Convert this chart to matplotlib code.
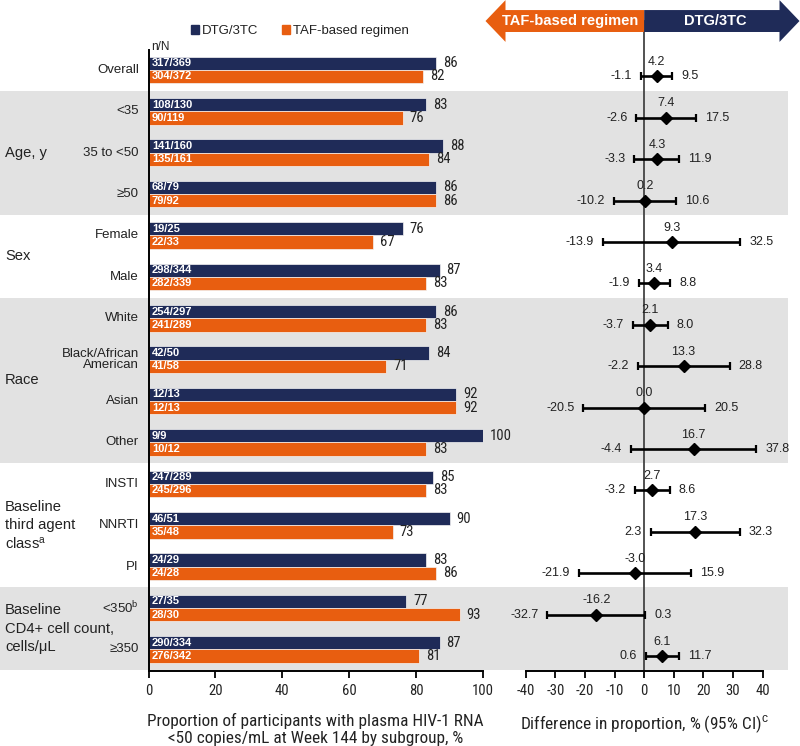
import matplotlib
matplotlib.use("Agg")
import matplotlib.pyplot as plt
import numpy as np
from matplotlib.patches import Patch, FancyArrow
from matplotlib import font_manager as fm

plt.rcParams['mathtext.fontset'] = 'custom'
plt.rcParams['mathtext.rm'] = 'Liberation Sans'
plt.rcParams['mathtext.it'] = 'Liberation Sans:italic'
plt.rcParams['font.family'] = ['Liberation Sans', 'DejaVu Sans']
plt.rcParams['axes.unicode_minus'] = False

# ---------------- data ----------------
subgroups = ['Overall', '<35', '35 to <50', '≥50', 'Female', 'Male', 'White',
             'Black/African\nAmerican', 'Asian', 'Other', 'INSTI', 'NNRTI', 'PI',
             '<350$^{\\mathrm{b}}$', '≥350']
dtg_pct = [86, 83, 88, 86, 76, 87, 86, 84, 92, 100, 85, 90, 83, 77, 87]
taf_pct = [82, 76, 84, 86, 67, 83, 83, 71, 92, 83, 83, 73, 86, 93, 81]
dtg_nN = ['317/369', '108/130', '141/160', '68/79', '19/25', '298/344', '254/297',
          '42/50', '12/13', '9/9', '247/289', '46/51', '24/29', '27/35', '290/334']
taf_nN = ['304/372', '90/119', '135/161', '79/92', '22/33', '282/339', '241/289',
          '41/58', '12/13', '10/12', '245/296', '35/48', '24/28', '28/30', '276/342']
diff = [4.2, 7.4, 4.3, 0.2, 9.3, 3.4, 2.1, 13.3, 0.0, 16.7, 2.7, 17.3, -3.0, -16.2, 6.1]
ci_low = [-1.1, -2.6, -3.3, -10.2, -13.9, -1.9, -3.7, -2.2, -20.5, -4.4, -3.2, 2.3, -21.9, -32.7, 0.6]
ci_high = [9.5, 17.5, 11.9, 10.6, 32.5, 8.8, 8.0, 28.8, 20.5, 37.8, 8.6, 32.3, 15.9, 0.3, 11.7]
# category: (label, first row, last row, shaded)
categories = [('Age, y', 1, 3, True), ('Sex', 4, 5, False), ('Race', 6, 9, True),
              ('Baseline\nthird agent\nclass$^{\\mathrm{a}}$', 10, 12, False),
              ('Baseline\nCD4+ cell count,\ncells/μL', 13, 14, True)]
bar_ticks = [0, 20, 40, 60, 80, 100]
diff_ticks = [-40, -30, -20, -10, 0, 10, 20, 30, 40]

NAVY = '#1f2b58'
ORANGE = '#e85e10'
GRAY = '#e2e2e2'
TXT = '#222222'

# pick a condensed font if one exists
NARROW = None
for cand in ['Liberation Sans Narrow', 'Arial Narrow', 'Roboto Condensed', 'Open Sans Condensed']:
    try:
        fm.findfont(fm.FontProperties(family=cand), fallback_to_default=False)
        NARROW = cand
        break
    except Exception:
        pass
if NARROW is not None:
    NFAM = [NARROW, 'Liberation Sans']
    SZ_VAL, SZ_TICK, SZ_XLAB = 10.5, 10.5, 12.4
else:
    NFAM = ['Liberation Sans']
    SZ_VAL, SZ_TICK, SZ_XLAB = 9.6, 9.6, 11.1

W, H = 800, 746
fig = plt.figure(figsize=(8, 7.46), dpi=100)
def fx(px): return px / W
def fy(py): return 1 - py / H

top_px, bot_px = 50, 671
hfrac = (bot_px - top_px) / H
bg = fig.add_axes([0, fy(bot_px), fx(788), hfrac])
ax_b = fig.add_axes([fx(148.5), fy(bot_px), fx(483 - 148.5), hfrac])
ax_f = fig.add_axes([fx(525.7), fy(bot_px), fx(762.7 - 525.7), hfrac])
bg.set_zorder(0); ax_b.set_zorder(1); ax_f.set_zorder(1)
for a in (ax_b, ax_f):
    a.patch.set_visible(False)

n = len(subgroups)
y = np.arange(n)
ylim = (n - 0.48, -0.48)
row_px = (bot_px - top_px) / (ylim[0] - ylim[1])

# background bands
bg.set_xlim(0, 1); bg.set_ylim(ylim); bg.axis('off')
for lab, r0, r1, shaded in categories:
    if shaded:
        bg.axhspan(r0 - 0.5, min(r1 + 0.5, ylim[0]), color=GRAY, lw=0)

# bars
hb = 0.32
ax_b.barh(y - hb / 2, dtg_pct, height=hb, color=NAVY, edgecolor='#f4f4f4', lw=0.5)
ax_b.barh(y + hb / 2, taf_pct, height=hb, color=ORANGE, edgecolor='#f4f4f4', lw=0.5)
ax_b.set_xlim(0, 100); ax_b.set_ylim(ylim)
ax_b.set_xticks(bar_ticks)
ax_b.set_yticks([])
for s in ('top', 'right'):
    ax_b.spines[s].set_visible(False)
for s in ('left', 'bottom'):
    ax_b.spines[s].set_linewidth(1.4)
for i in range(n):
    for yy, v, t in ((y[i] - hb / 2, dtg_pct[i], dtg_nN[i]), (y[i] + hb / 2, taf_pct[i], taf_nN[i])):
        ax_b.annotate(t, xy=(0, yy), xytext=(2.5, 0), textcoords='offset points',
                      color='white', fontweight='bold', fontsize=8, va='center', ha='left')
        ax_b.annotate(f'{v}', xy=(v, yy), xytext=(5, 0), textcoords='offset points',
                      color=TXT, fontsize=SZ_VAL, family=NFAM, va='center', ha='left')
    ax_b.annotate(subgroups[i], xy=(0, y[i]), xycoords=('axes fraction', 'data'),
                  xytext=(-7, 0), textcoords='offset points', ha='right', va='center',
                  fontsize=9.5, color=TXT, linespacing=0.95)
ax_b.text(0.008, 1.0 + 3 / (bot_px - top_px), 'n/N', transform=ax_b.transAxes,
          fontsize=8.5, color=TXT, va='center', ha='left')

# category labels, one line at a time
line_pt = 18.3 * 72 / 100
for lab, r0, r1, shaded in categories:
    lines = lab.split('\n')
    k = len(lines)
    for j, line in enumerate(lines):
        bg.annotate(line, xy=(5 / 788, (r0 + r1) / 2), xycoords=('axes fraction', 'data'),
                    xytext=(0, ((k - 1) / 2 - j) * line_pt), textcoords='offset points',
                    fontsize=10.6, color=TXT, ha='left', va='center')

# forest
ax_f.set_xlim(-40, 40); ax_f.set_ylim(ylim)
ax_f.set_xticks(diff_ticks); ax_f.set_yticks([])
for s in ('top', 'right', 'left'):
    ax_f.spines[s].set_visible(False)
ax_f.spines['bottom'].set_linewidth(1.4)
yc_arrow = -1.18
ax_f.axvline(0, ymin=0, ymax=1 + (ylim[1] - yc_arrow) / (ylim[0] - ylim[1]),
             color='#444444', lw=1.3, clip_on=False, zorder=1)
d = np.array(diff); lo = np.array(ci_low); hi = np.array(ci_high)
ax_f.errorbar(d, y + hb / 2, xerr=[d - lo, hi - d], fmt='D', color='black', ms=6,
              capsize=2.6, capthick=1.6, elinewidth=1.9, zorder=3)
for i in range(n):
    yy = y[i] + hb / 2
    ax_f.annotate(f'{ci_low[i]:.1f}', xy=(ci_low[i], yy), xytext=(-6.5, 0), textcoords='offset points',
                  ha='right', va='center', fontsize=9, color=TXT)
    ax_f.annotate(f'{ci_high[i]:.1f}', xy=(ci_high[i], yy), xytext=(6.5, 0), textcoords='offset points',
                  ha='left', va='center', fontsize=9, color=TXT)
    ax_f.annotate(f'{diff[i]:.1f}', xy=(diff[i], y[i] - 0.19), ha='center', va='center',
                  fontsize=9, color=TXT)

# direction arrows
px_per_unit = (762.7 - 525.7) / 80
ax_f.add_patch(FancyArrow(0, yc_arrow, -(643.7 - 485) / px_per_unit, 0, width=0.53, head_width=1.01,
                          head_length=20 / px_per_unit, length_includes_head=True, color=ORANGE,
                          lw=0, clip_on=False, zorder=5))
ax_f.add_patch(FancyArrow(0, yc_arrow, (799 - 643.7) / px_per_unit, 0, width=0.53, head_width=1.01,
                          head_length=20 / px_per_unit, length_includes_head=True, color=NAVY,
                          lw=0, clip_on=False, zorder=5))
ax_f.text(-24.9, yc_arrow, 'TAF-based regimen', color='white', fontweight='bold', fontsize=10.5,
          ha='center', va='center', zorder=6, clip_on=False)
ax_f.text(24.1, yc_arrow, 'DTG/3TC', color='white', fontweight='bold', fontsize=10.5,
          ha='center', va='center', zorder=6, clip_on=False)

for a in (ax_b, ax_f):
    a.tick_params(axis='x', length=5, width=1.3, pad=4.5, labelsize=SZ_TICK, colors=TXT)
    a.tick_params(axis='x', color='black')
    for t in a.get_xticklabels():
        t.set_fontfamily(NFAM)

ax_b.set_xlabel('Proportion of participants with plasma HIV-1 RNA\n<50 copies/mL at Week 144 by subgroup, %',
                fontsize=SZ_XLAB, family=NFAM, color=TXT, labelpad=11, linespacing=1.15)
ax_f.set_xlabel('Difference in proportion, % (95% CI)$^{\\mathrm{c}}$',
                fontsize=SZ_XLAB, family=NFAM, color=TXT, labelpad=11)

fig.legend(handles=[Patch(color=NAVY, label='DTG/3TC'), Patch(color=ORANGE, label='TAF-based regimen')],
           loc='center', bbox_to_anchor=(fx(300), fy(31)), ncol=2, frameon=False, fontsize=9.5,
           handlelength=0.6, handleheight=0.6, handletextpad=0.25, columnspacing=1.8)
for t in fig.legends[0].get_texts():
    t.set_color(TXT)

fig.savefig('out.png', dpi=100)
